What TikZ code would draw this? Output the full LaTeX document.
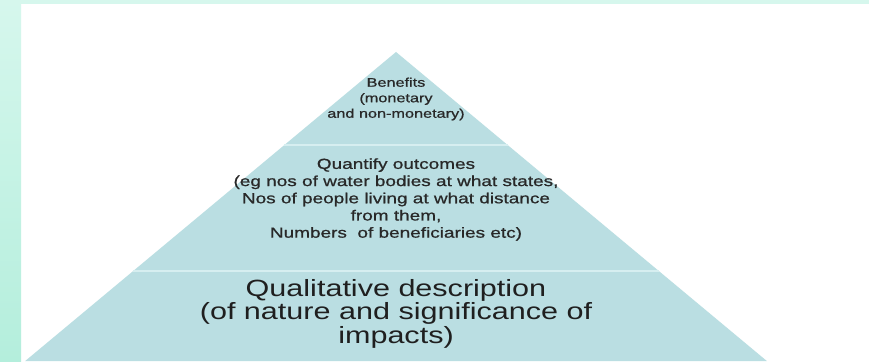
\documentclass[tikz,border=0pt]{standalone}
\usepackage{fontspec}
\setmainfont{Liberation Sans}
\newfontfamily\widesans[FakeStretch=1.3]{Liberation Sans}
\newfontfamily\widebold[FakeStretch=1.3,FakeBold=0.8]{Liberation Sans}
\definecolor{pyr}{RGB}{186,222,226}
\definecolor{divcol}{RGB}{214,238,240}
\definecolor{minttop}{RGB}{214,247,237}
\definecolor{mintbot}{RGB}{180,238,220}
\definecolor{txt}{RGB}{40,40,40}
\tikzset{
  tiertext/.style={align=center, inner sep=0pt, text=txt},
  divider/.style={draw=divcol, line width=1.2pt}
}
\begin{document}
\begin{tikzpicture}[x=1pt,y=-1pt]
\useasboundingbox (0,0) rectangle (869,361);
\fill[white] (0,0) rectangle (869,361);
\shade[top color=minttop, bottom color=mintbot] (0,0) rectangle (21,361);
\fill[minttop] (0,0) rectangle (869,4);
% pyramid
\coordinate (apex) at (396,52);
\coordinate (a1l) at (284.4,145);
\coordinate (a1r) at (507.6,145);
\coordinate (a2l) at (133.2,271);
\coordinate (a2r) at (658.8,271);
\coordinate (bl) at (25.2,361);
\coordinate (br) at (766.8,361);
\fill[pyr] (apex) -- (bl) -- (br) -- cycle;
\draw[divider] (a1l) -- (a1r);
\draw[divider] (a2l) -- (a2r);
% texts
\node[tiertext, font=\widebold\fontsize{12.5}{15.5}\selectfont] (t1) at (396,99)
  {Benefits\\(monetary\\and non-monetary)};
\node[tiertext, font=\widebold\fontsize{14.6}{17.2}\selectfont] (t2) at (396,199.5)
  {Quantify outcomes\\(eg nos of water bodies at what states,\\Nos of people living at what distance\\from them,\\Numbers~ of beneficiaries etc)};
\node[tiertext, text=black!88, font=\widesans\fontsize{23.5}{23.5}\selectfont] (t3) at (396,313.5)
  {Qualitative description\\(of nature and significance of\\impacts)};
\end{tikzpicture}
\end{document}
